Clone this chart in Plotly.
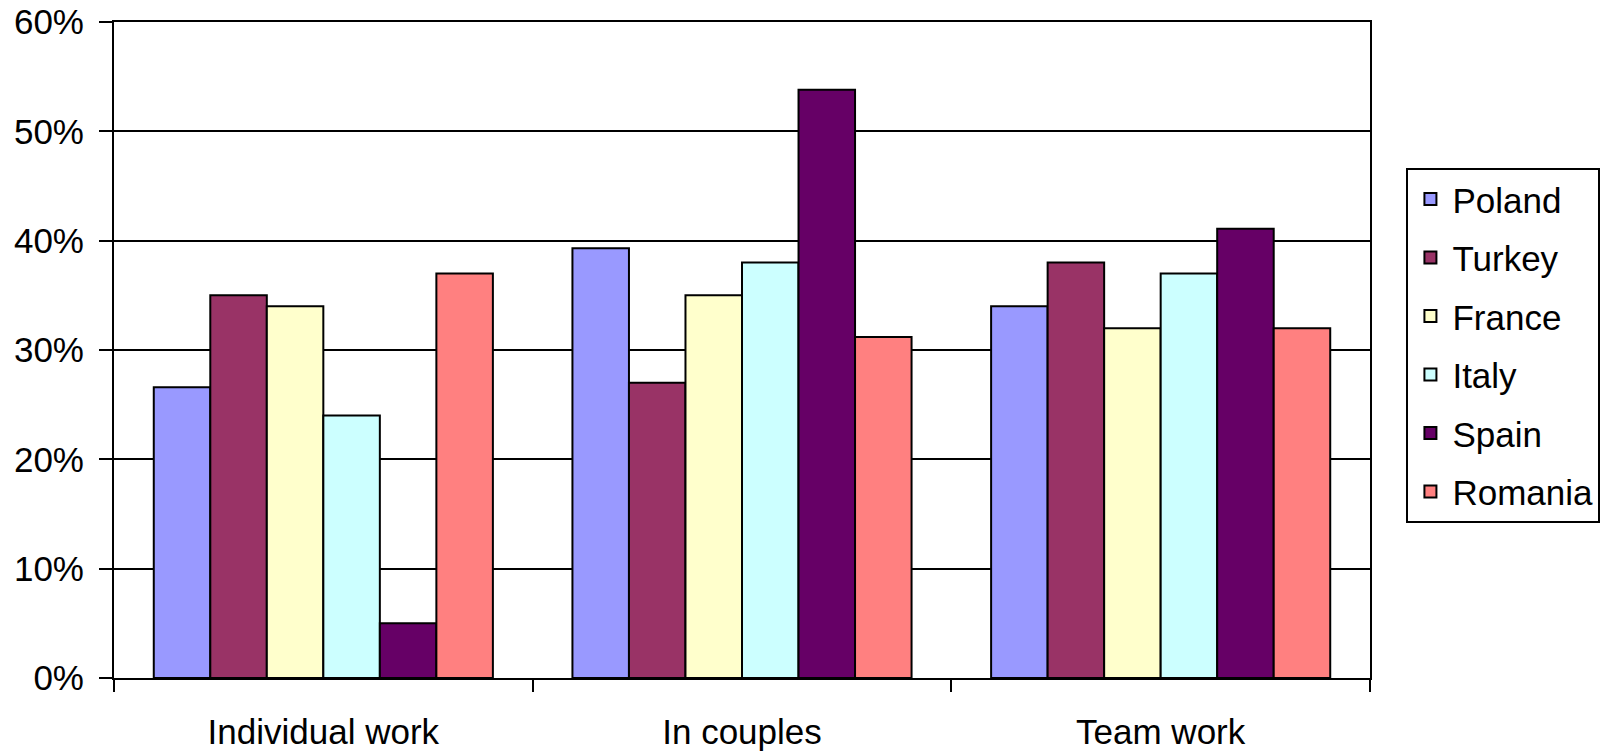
import plotly.graph_objects as go

categories = ["Individual work", "In couples", "Team work"]
countries = ["Poland", "Turkey", "France", "Italy", "Spain", "Romania"]
values = {
    "Poland":  [0.266, 0.393, 0.34],
    "Turkey":  [0.35, 0.27, 0.38],
    "France":  [0.34, 0.35, 0.32],
    "Italy":   [0.24, 0.38, 0.37],
    "Spain":   [0.05, 0.538, 0.411],
    "Romania": [0.37, 0.312, 0.32],
}
colors = ["#9999FF", "#993366", "#FFFFCC", "#CCFFFF", "#660066", "#FF8080"]

fig = go.Figure()
for i, c in enumerate(countries):
    fig.add_trace(go.Bar(
        x=categories, y=values[c], name=c, legendgroup=c,
        marker=dict(color=colors[i], line=dict(color="black", width=2)),
    ))

font = "Liberation Sans, Arial, sans-serif"
fs = 35
fig.update_layout(
    width=1612, height=753,
    margin=dict(l=114, r=242, t=22, b=75),
    paper_bgcolor="white", plot_bgcolor="white",
    barmode="group", bargap=0.19, bargroupgap=0,
    font=dict(family=font, size=fs, color="black"),
    showlegend=True,
    legend=dict(
        x=1.029, xanchor="left", y=0.778, yanchor="top",
        bordercolor="black", borderwidth=2,
        font=dict(size=fs, family=font),
        tracegroupgap=10, itemwidth=34,
    ),
    xaxis=dict(
        showline=True, linecolor="black", linewidth=2, mirror=True,
        ticks="outside", tickson="boundaries", ticklen=12, tickwidth=2, tickcolor="black",
        showgrid=False, tickfont=dict(size=fs), automargin=False,
        ticklabelstandoff=22,
    ),
    yaxis=dict(
        range=[0, 0.6], dtick=0.1, tickformat=".0%",
        showline=True, linecolor="black", linewidth=2, mirror=True,
        ticks="outside", ticklen=13, tickwidth=2, tickcolor="black",
        showgrid=True, gridcolor="black", gridwidth=2,
        zeroline=False, tickfont=dict(size=fs), automargin=False,
        ticklabelstandoff=8, ticklabeloverflow="allow",
    ),
)

fig.write_html("out.html", config={"displayModeBar": False},
               post_script="document.body.style.margin='0';")
